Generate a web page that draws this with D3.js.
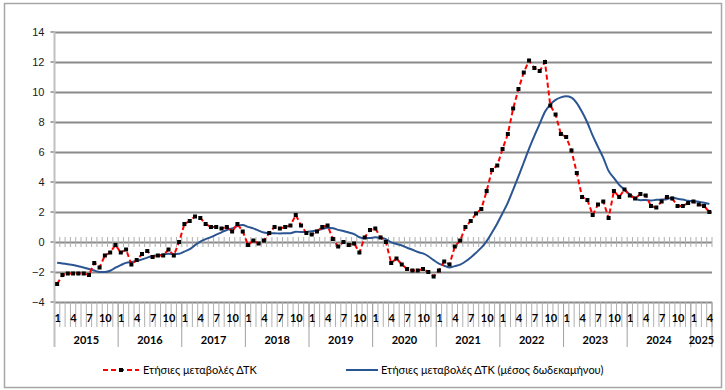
<!DOCTYPE html>
<html><head><meta charset="utf-8">
<script src="https://cdn.jsdelivr.net/npm/d3@7/dist/d3.min.js"></script>
<style>
html,body{margin:0;padding:0;background:#fff;}
svg{display:block;font-family:Lato,"Open Sans",sans-serif;}
</style></head>
<body><svg id="c" width="725" height="390"></svg>
<script>
const years = [2015,2016,2017,2018,2019,2020,2021,2022,2023,2024,2025];
const monthTickLabels = [1,4,7,10];
const yTicks = [-4,-2,0,2,4,6,8,10,12,14];
const seriesNames = ["Ετήσιες μεταβολές ΔΤΚ","Ετήσιες μεταβολές ΔΤΚ (μέσος δωδεκαμήνου)"];

// Annual change of CPI, monthly, Jan 2015 - Apr 2025
const annualChange = [
 -2.8,-2.2,-2.1,-2.1,-2.1,-2.1,-2.2,-1.4,-1.7,-0.9,-0.7,-0.2,
 -0.7,-0.5,-1.5,-1.2,-0.8,-0.6,-1.0,-0.9,-0.9,-0.5,-0.9,0.0,
 1.2,1.4,1.7,1.6,1.2,1.0,1.0,0.9,1.0,0.7,1.2,0.7,
 -0.2,0.1,-0.1,0.1,0.6,1.0,0.9,1.0,1.1,1.8,1.1,0.6,
 0.5,0.7,1.0,1.1,0.2,-0.3,0.0,-0.2,-0.1,-0.7,0.3,0.8,
 0.9,0.3,0.0,-1.4,-1.1,-1.5,-1.8,-1.9,-1.9,-1.8,-2.0,-2.3,
 -1.9,-1.3,-1.5,-0.3,0.1,1.0,1.4,1.9,2.2,3.4,4.8,5.1,
 6.2,7.2,8.9,10.2,11.3,12.1,11.6,11.4,12.0,9.1,8.5,7.2,
 7.0,6.1,4.6,3.0,2.8,1.8,2.5,2.7,1.6,3.4,3.0,3.5,
 3.1,2.9,3.2,3.1,2.4,2.3,2.7,3.0,2.9,2.4,2.4,2.6,
 2.7,2.5,2.4,2.0
];
// 12-month average of annual change
const movingAvg = [
 -1.38,-1.43,-1.48,-1.53,-1.62,-1.70,-1.80,-1.90,-2.00,-2.00,-1.92,-1.71,
 -1.54,-1.39,-1.34,-1.27,-1.16,-1.04,-0.94,-0.89,-0.83,-0.79,-0.81,-0.79,
 -0.64,-0.48,-0.21,0.02,0.19,0.32,0.49,0.64,0.80,0.90,1.07,1.13,
 1.01,0.91,0.76,0.63,0.58,0.58,0.57,0.58,0.59,0.68,0.67,0.67,
 0.72,0.77,0.87,0.95,0.92,0.81,0.73,0.63,0.53,0.32,0.26,0.27,
 0.31,0.27,0.19,-0.02,-0.13,-0.23,-0.38,-0.52,-0.67,-0.76,-0.95,-1.21,
 -1.44,-1.58,-1.70,-1.61,-1.51,-1.30,-1.03,-0.72,-0.38,0.06,0.63,1.24,
 1.92,2.63,3.49,4.37,5.30,6.23,7.08,7.87,8.68,9.16,9.47,9.64,
 9.71,9.62,9.26,8.66,7.95,7.09,6.34,5.61,4.74,4.27,3.81,3.50,
 3.18,2.91,2.79,2.80,2.77,2.81,2.83,2.85,2.96,2.88,2.83,2.75,
 2.72,2.69,2.62,2.53
];

const n = annualChange.length;
const idx = d3.range(n);
const monthOf = i => (i % 12) + 1;

const svg = d3.select("#c");
const pLeft = 54.5, pRight = 712, pTop = 32, pBottom = 302;

const x = d3.scaleBand().domain(idx).range([pLeft, pRight]).paddingInner(0).paddingOuter(0);
const y = d3.scaleLinear().domain([-4, 14]).range([pBottom, pTop]);
const cx = i => x(i) + x.bandwidth()/2;

// outer frame
svg.append("rect").attr("x",4.5).attr("y",3.5).attr("width",717).attr("height",384)
  .attr("fill","none").attr("stroke","#a6a6a6").attr("stroke-width",1.5);

// gridlines + y labels via axis
const yAxis = d3.axisLeft(y).tickValues(yTicks).tickSize(-(pRight-pLeft)).tickPadding(8).tickFormat(d3.format("d"));
const gy = svg.append("g").attr("transform",`translate(${pLeft},0)`).call(yAxis);
gy.select(".domain").remove();
gy.selectAll(".tick line").attr("stroke","#8a8a8a").attr("stroke-width",2);
gy.selectAll(".tick text").attr("font-size",11).attr("fill","#1a1a1a").attr("x",-10);
// small outer ticks
svg.append("g").selectAll("line").data(yTicks).join("line")
  .attr("x1",pLeft-4).attr("x2",pLeft).attr("y1",d=>y(d)).attr("y2",d=>y(d))
  .attr("stroke","#8a8a8a").attr("stroke-width",1.5);

// left axis line
svg.append("line").attr("x1",pLeft).attr("x2",pLeft).attr("y1",pTop).attr("y2",347)
  .attr("stroke","#c0c0c0").attr("stroke-width",2);

// category tick marks crossing the zero line
const bounds = d3.range(n+1).map(i => i < n ? x(i) : pRight);
svg.append("g").selectAll("line").data(bounds.slice(1)).join("line")
  .attr("x1",d=>d).attr("x2",d=>d).attr("y1",y(0)-5).attr("y2",y(0)+5)
  .attr("stroke","#b0b0b0").attr("stroke-width",1);

// bottom category label area: tick separators
svg.append("g").selectAll("line").data(bounds.slice(1)).join("line")
  .attr("x1",d=>d).attr("x2",d=>d).attr("y1",pBottom).attr("y2",327)
  .attr("stroke","#b0b0b0").attr("stroke-width",1);
// year separators
const yearBounds = years.map((yv,k)=> (k+1)*12).map(i => i < n ? x(i) : pRight);
svg.append("g").selectAll("line").data(yearBounds).join("line")
  .attr("x1",d=>d).attr("x2",d=>d).attr("y1",pBottom).attr("y2",347)
  .attr("stroke","#a0a0a0").attr("stroke-width",1);

// month labels
svg.append("g").selectAll("text").data(idx.filter(i => monthTickLabels.includes(monthOf(i)))).join("text")
  .attr("x",i=>cx(i)+0.5).attr("y",322).attr("text-anchor","middle")
  .attr("font-size",11).attr("font-weight","bold").attr("fill","#000").text(i=>monthOf(i));
// year labels
svg.append("g").selectAll("text").data(years).join("text")
  .attr("x",(yv,k)=>{const a=x(k*12); const e=Math.min((k+1)*12,n); const b = e<n? x(e): pRight; return (a+b)/2;})
  .attr("y",344).attr("text-anchor","middle")
  .attr("font-size",11).attr("font-weight","bold").attr("fill","#000").text(d=>d);

// blue line
const lineB = d3.line().x((d,i)=>cx(i)).y(d=>y(d)).curve(d3.curveMonotoneX);
svg.append("path").datum(movingAvg).attr("d",lineB).attr("fill","none")
  .attr("stroke","#2b5592").attr("stroke-width",2);

// red dashed line
const lineR = d3.line().x((d,i)=>cx(i)).y(d=>y(d));
svg.append("path").datum(annualChange).attr("d",lineR).attr("fill","none")
  .attr("stroke","#ff0000").attr("stroke-width",2).attr("stroke-dasharray","5,3");
svg.append("g").selectAll("rect").data(annualChange).join("rect")
  .attr("x",(d,i)=>cx(i)-2).attr("y",d=>y(d)-2).attr("width",4).attr("height",4).attr("fill","#000");

// legend
const lg = svg.append("g");
lg.append("line").attr("x1",103).attr("x2",139).attr("y1",370).attr("y2",370)
  .attr("stroke","#ff0000").attr("stroke-width",2).attr("stroke-dasharray","5,3");
lg.append("rect").attr("x",119).attr("y",368).attr("width",4).attr("height",4).attr("fill","#000");
lg.append("text").attr("x",143).attr("y",374).attr("font-size",11).attr("fill","#000").text(seriesNames[0]);
lg.append("line").attr("x1",346).attr("x2",378).attr("y1",370).attr("y2",370)
  .attr("stroke","#2b5592").attr("stroke-width",2);
lg.append("text").attr("x",381).attr("y",374).attr("font-size",11).attr("fill","#000").text(seriesNames[1]);
</script></body></html>
